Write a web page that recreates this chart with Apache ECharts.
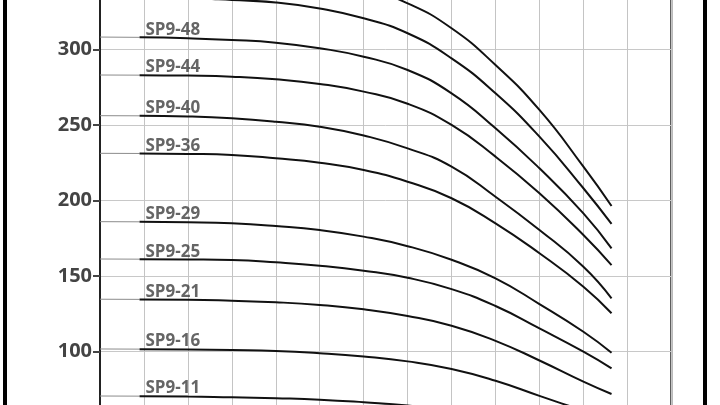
<!DOCTYPE html>
<html>
<head>
<meta charset="utf-8">
<script src="https://cdn.jsdelivr.net/npm/echarts@6/dist/echarts.min.js"></script>
<style>
html,body{margin:0;padding:0;background:#fff;}
#chart{width:720px;height:405px;}
</style>
</head>
<body>
<div id="chart"></div>
<script>
// Flow positions (x axis, gridline units) at which the curves were read
const flow = [0, 0.9, 2, 3, 4, 5, 6, 7, 8, 9, 10, 11, 11.64];

// Head values for each pump curve at the flow positions above
const curveNames = ['SP9-57', 'SP9-52', 'SP9-48', 'SP9-44', 'SP9-40', 'SP9-36', 'SP9-29', 'SP9-25', 'SP9-21', 'SP9-16', 'SP9-11'];
const sp9_57 = [355.7, 355.5, 354.8, 353.5, 351.4, 347.1, 340.6, 330.4, 313.9, 289.6, 259.9, 222.4, 196.4];
const sp9_52 = [334.8, 334.6, 333.9, 332.6, 331.0, 327.0, 320.5, 310.6, 294.0, 270.9, 242.2, 208.1, 184.5];
const sp9_48 = [308.1, 307.9, 307.3, 306.2, 304.4, 300.7, 295.1, 286.3, 270.9, 247.8, 221.3, 191.5, 168.3];
const sp9_44 = [283.0, 282.9, 282.6, 281.9, 280.2, 277.1, 272.0, 264.0, 250.0, 229.0, 204.8, 177.2, 157.3];
const sp9_40 = [256.1, 256.0, 255.6, 254.4, 252.1, 248.8, 243.0, 234.5, 222.4, 202.5, 180.5, 156.2, 135.3];
const sp9_36 = [231.2, 231.1, 230.8, 230.1, 227.9, 225.0, 220.2, 212.4, 201.5, 184.9, 165.1, 143.0, 125.4];
const sp9_29 = [186.0, 185.9, 185.6, 184.9, 183.1, 180.5, 176.1, 169.8, 160.8, 148.5, 131.5, 113.2, 99.3];
const sp9_25 = [161.3, 161.2, 161.0, 160.6, 159.1, 156.9, 153.6, 148.9, 141.4, 130.2, 115.4, 100.0, 89.0];
const sp9_21 = [134.7, 134.6, 134.4, 133.7, 132.7, 130.9, 128.0, 123.6, 117.2, 107.2, 94.2, 80.2, 72.0];
const sp9_16 = [101.8, 101.7, 101.5, 101.1, 100.5, 99.0, 96.8, 93.6, 88.6, 80.8, 70.8, 61.0, 55.0];
const sp9_11 = [70.7, 70.6, 70.4, 69.8, 69.2, 68.3, 66.6, 64.4, 60.6, 54.6, 47.0, 38.5, 33.5];

// Y axis tick values
const headTicks = [50, 100, 150, 200, 250, 300, 350];
// Flow value at which each curve's name is written
const labelFlow = 1;

const curves = [sp9_57, sp9_52, sp9_48, sp9_44, sp9_40, sp9_36, sp9_29, sp9_25, sp9_21, sp9_16, sp9_11];

const series = [];
curves.forEach(function (vals, i) {
  const pts = flow.map(function (q, j) { return [q, vals[j]]; });
  // thin lead-in segment
  series.push({
    type: 'line', name: curveNames[i] + ' lead', data: pts.slice(0, 2),
    showSymbol: false, symbol: 'none', silent: true,
    lineStyle: { color: '#8c8c8c', width: 1 }
  });
  // main curve
  series.push({
    type: 'line', name: curveNames[i], data: pts.slice(1),
    showSymbol: false, symbol: 'none', smooth: 0.5, silent: true,
    lineStyle: { color: '#111', width: 2 }
  });
});

series.push({
  type: 'scatter', name: 'labels',
  data: curveNames.map(function (n, i) { return { name: n, value: [labelFlow, curves[i][1]] }; }),
  symbolSize: 1, itemStyle: { color: 'rgba(0,0,0,0)' }, silent: true, clip: false,
  label: {
    show: true, position: 'right', distance: 0, offset: [1, -7.5],
    formatter: function (p) { return p.name; },
    color: '#3f3f3f', fontFamily: 'Open Sans', fontWeight: 'bold', fontSize: 17
  }
});

const chart = echarts.init(document.getElementById('chart'), null, { renderer: 'canvas' });
chart.setOption({
  animation: false,
  backgroundColor: '#fff',
  grid: {
    left: 100, right: 48.7, top: -26.3, bottom: -22.3,
    outerBoundsMode: 'none', containLabel: false,
    show: true, borderColor: '#1a1a1a', borderWidth: 2, backgroundColor: '#fff'
  },
  xAxis: {
    type: 'value', min: 0, max: 13, interval: 1,
    axisLine: { show: false }, axisTick: { show: false }, axisLabel: { show: false },
    splitLine: { show: true, lineStyle: { color: '#c4c4c4', width: 1 } }
  },
  yAxis: {
    type: 'value', min: headTicks[0], max: headTicks[headTicks.length - 1], interval: 50,
    axisLine: { show: true, lineStyle: { color: '#222', width: 2 } },
    axisTick: { show: true, length: 7, lineStyle: { color: '#444', width: 2 } },
    axisLabel: { show: true, margin: 8, color: '#444', fontFamily: 'Open Sans', fontWeight: 'bold', fontSize: 20 },
    splitLine: { show: true, lineStyle: { color: '#c8c8c8', width: 1 } }
  },
  graphic: [
    { type: 'rect', shape: { x: 3, y: 0, width: 4, height: 405 }, style: { fill: '#000' }, silent: true },
    { type: 'rect', shape: { x: 703, y: 0, width: 4, height: 405 }, style: { fill: '#000' }, silent: true }
  ],
  series: series
});
</script>
</body>
</html>
